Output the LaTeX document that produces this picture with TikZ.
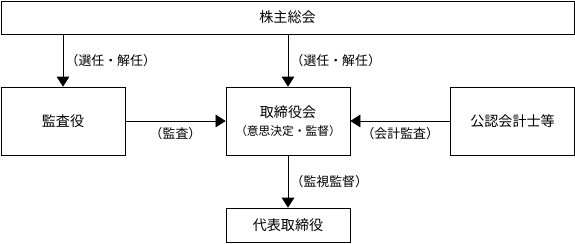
\documentclass[tikz,border=0pt]{standalone}
\usepackage{fontspec}
\setmainfont{Noto Sans CJK JP}
\usetikzlibrary{arrows.meta, positioning}

\begin{document}
\begin{tikzpicture}[x=0.03cm, y=-0.03cm,
	box/.style={draw, line width=0.6pt, minimum width=3.72cm, minimum height=2.04cm, font=\fontsize{12}{15}\selectfont},
	lbl/.style={font=\fontsize{11}{12}\selectfont, inner sep=2pt},
	arr/.style={line width=0.6pt, -{Triangle[length=3mm, width=3.8mm]}}]
	\useasboundingbox (0,0) rectangle (575,243);

	% Boxes
	\node[box, minimum width=17.19cm, minimum height=0.99cm] (meeting) at (287.5,17.5) {株主総会};
	\node[box, align=center] (board) at (288,121) {取締役会\\{\fontsize{10}{11}\selectfont （意思決定・監督）}};
	\node[box] (auditor) at (63,121) {監査役};
	\node[box] (cpa) at (512.5,121) {公認会計士等};
	\node[box, minimum height=1.02cm] (rep) at (288,225) {代表取締役};

	% Appointment from the meeting
	\draw[arr] (meeting.south -| auditor) -- node[lbl, right] {（選任・解任）} (auditor);
	\draw[arr] (meeting.south -| board) -- node[lbl, right] {（選任・解任）} (board);

	% Audits into the board
	\draw[arr] (auditor) -- node[lbl, below=3pt] {（監査）} (board);
	\draw[arr] (cpa) -- node[lbl, below=3pt] {（会計監査）} (board);

	% Supervision
	\draw[arr] (board) -- node[lbl, right] {（監視監督）} (rep);
\end{tikzpicture}
\end{document}
